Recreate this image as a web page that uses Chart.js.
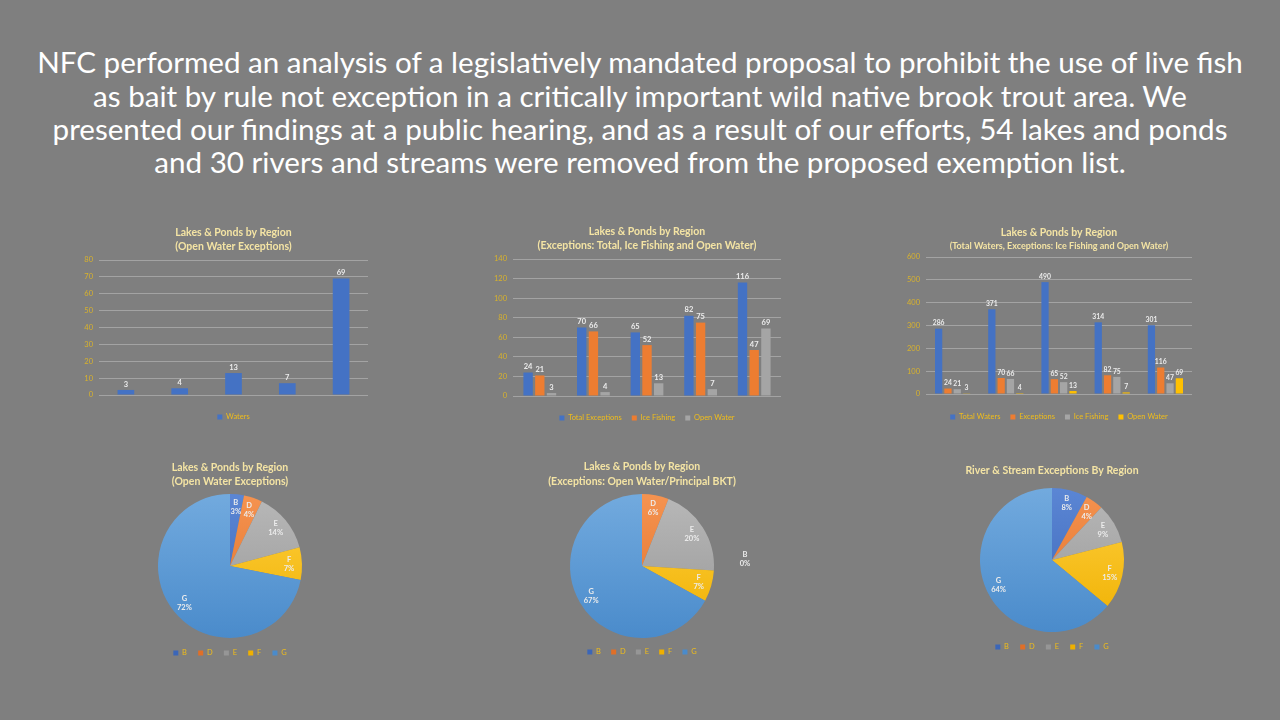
<!DOCTYPE html>
<html>
<head>
<meta charset="utf-8">
<script src="https://cdn.jsdelivr.net/npm/chart.js@4.4.1/dist/chart.umd.min.js"></script>
<style>
html,body{margin:0;padding:0;background:#7f7f7f;width:1280px;height:720px;overflow:hidden;}
.hl{position:absolute;left:0;width:1280px;text-align:center;color:#ffffff;font-family:Lato, sans-serif;font-weight:400;white-space:nowrap;}
canvas{position:absolute;}
</style>
</head>
<body>
<div id="heading"></div>
<canvas id="c1"></canvas>
<canvas id="c2"></canvas>
<canvas id="c3"></canvas>
<canvas id="c4"></canvas>
<canvas id="c5"></canvas>
<canvas id="c6"></canvas>
<script>
// ---------------- DATA ----------------
const regions = ['B', 'D', 'E', 'F', 'G'];
const openWaterExceptions = [3, 4, 13, 7, 69];
const totalExceptions = [24, 70, 65, 82, 116];
const iceFishingExceptions = [21, 66, 52, 75, 47];
const totalWaters = [286, 371, 490, 314, 301];
const openWaterPrincipalBktPct = [0, 6, 20, 7, 67];
const riverStreamPct = [8, 4, 9, 15, 64];
const yAxis1 = {max: 80, step: 10};
const yAxis2 = {max: 140, step: 20};
const yAxis3 = {max: 600, step: 100};
const headingLines = [
  'NFC performed an analysis of a legislatively mandated proposal to prohibit the use of live fish',
  'as bait by rule not exception in a critically important wild native brook trout area. We',
  'presented our findings at a public hearing, and as a result of our efforts, 54 lakes and ponds',
  'and 30 rivers and streams were removed from the proposed exemption list.'
];

// ---------------- STYLE ----------------
const FONT = 'Lato, sans-serif';
Chart.defaults.font.family = FONT;
const COL = {blue: '#4472c4', orange: '#ed7d31', gray: '#a5a5a5', yellow: '#ffc000', lblue: '#5b9bd5'};
const titleColor = '#f4e4a4';
const tickColor = '#d8b22c';
const legendColor = '#f0bd1a';
const catColor = '#dcdcdc';
const gridColor = '#a3a3a3';
const labelColor = '#ececec';

// ---------------- HEADING ----------------
(function () {
  const m = document.createElement('canvas').getContext('2d');
  m.font = '400 100px ' + FONT;
  const w = m.measureText(headingLines[0]).width;
  const size = 1208 / w * 100;
  const centers = [62, 95.5, 129, 162];
  const h = document.getElementById('heading');
  headingLines.forEach((t, i) => {
    const d = document.createElement('div');
    d.className = 'hl';
    d.style.fontSize = size + 'px';
    d.style.lineHeight = '34px';
    d.style.top = (centers[i] - 17) + 'px';
    d.textContent = t;
    h.appendChild(d);
  });
})();

// ---------------- VALUE LABELS PLUGIN ----------------
const valueLabels = {
  id: 'valueLabels',
  afterDatasetsDraw(chart, args, opts) {
    const ctx = chart.ctx;
    ctx.save();
    ctx.fillStyle = opts.color || labelColor;
    ctx.textAlign = 'center';
    if (chart.config.type === 'bar') {
      ctx.font = 'bold ' + (opts.size || 7.5) + 'px ' + FONT;
      ctx.textBaseline = 'bottom';
      chart.data.datasets.forEach((ds, i) => {
        chart.getDatasetMeta(i).data.forEach((el, j) => {
          ctx.fillText(String(ds.data[j]), el.x, el.y - 2);
        });
      });
    } else {
      ctx.font = 'bold ' + (opts.size || 7.5) + 'px ' + FONT;
      ctx.textBaseline = 'middle';
      const ds = chart.data.datasets[0];
      const sum = ds.data.reduce((s, v) => s + v, 0);
      chart.getDatasetMeta(0).data.forEach((el, j) => {
        const v = ds.data[j];
        const pct = Math.round(v / sum * 100) + '%';
        let lx, ly;
        if (v === 0) {
          lx = el.x + el.outerRadius * 1.43;
          ly = el.y - el.outerRadius * 0.1;
        } else {
          const mid = (el.startAngle + el.endAngle) / 2;
          const rr = el.outerRadius * 0.82;
          lx = el.x + Math.cos(mid) * rr;
          ly = el.y + Math.sin(mid) * rr;
        }
        ctx.fillText(chart.data.labels[j], lx, ly - 4.5);
        ctx.fillText(pct, lx, ly + 4.5);
      });
    }
    ctx.restore();
  }
};

// ---------------- BAR CHARTS ----------------
function barChart(id, g, datasets, yAx) {
  const tLH = g.ts * 1.2, sLH = g.ss * 1.2;
  const a = g.t1 - g.T - tLH / 2;
  const tB = g.T + a + tLH;
  const c = g.t2 - tB - sLH / 2;
  const sB = tB + c + sLH;
  const b = g.top - sB;
  const xFont = 7.5, xLH = xFont * 1.2;
  const xp = g.catY - g.bottom - xLH / 2;
  const lf = 7.5, lp = 10;
  const xH = g.legY - g.bottom - lp - lf / 2;
  const legTop = g.bottom + xH;
  const cb = legTop + lf + lp + 10;
  const H = Math.ceil(cb - g.T);
  const padB = H - (cb - g.T);
  const cv = document.getElementById(id);
  cv.style.left = g.L + 'px';
  cv.style.top = g.T + 'px';
  cv.width = g.R - g.L;
  cv.height = H;
  new Chart(cv, {
    type: 'bar',
    data: {labels: regions, datasets: datasets.map(d => ({
      label: d.label, data: d.data, backgroundColor: d.color, borderWidth: 0,
      categoryPercentage: g.catPct, barPercentage: g.barPct
    }))},
    options: {
      responsive: false, animation: false, devicePixelRatio: 1,
      layout: {padding: {left: 0, right: g.R - g.right, top: 0, bottom: padB}},
      plugins: {
        title: {display: true, text: g.title, fullSize: false, color: titleColor,
          font: {size: g.ts, weight: 'bold', lineHeight: 1.2}, padding: {top: a, bottom: 0}},
        subtitle: {display: true, text: g.sub, fullSize: false, color: titleColor,
          font: {size: g.ss, weight: 'bold', lineHeight: 1.2}, padding: {top: c, bottom: b}},
        legend: {position: 'bottom', fullSize: false,
          labels: {boxWidth: 5, boxHeight: 5, padding: lp, color: legendColor, font: {size: lf}}},
        tooltip: {enabled: false},
        valueLabels: {size: g.vs}
      },
      scales: {
        x: {grid: {display: false}, border: {display: false},
          ticks: {color: catColor, font: {size: xFont}, padding: xp},
          afterFit(s) { s.height = xH; }},
        y: {min: 0, max: yAx.max,
          ticks: {stepSize: yAx.step, color: tickColor, font: {size: 7.5}, padding: 6},
          grid: {color: gridColor, drawTicks: false, lineWidth: 1},
          border: {display: false},
          afterFit(s) { s.width = g.left - g.L; }}
      }
    },
    plugins: [valueLabels]
  });
}

barChart('c1', {
  L: 45, R: 395, T: 222, t1: 233, t2: 247, top: 260, bottom: 395, catY: 404, legY: 417,
  left: 99, right: 368, ts: 10.5, ss: 10.5, vs: 7.5, catPct: 1, barPct: 0.31,
  title: 'Lakes & Ponds by Region', sub: '(Open Water Exceptions)'
}, [
  {label: 'Waters', data: openWaterExceptions, color: COL.blue}
], yAxis1);

barChart('c2', {
  L: 465, R: 800, T: 220, t1: 232, t2: 246, top: 259, bottom: 396, catY: 405, legY: 418,
  left: 513, right: 781, ts: 10.5, ss: 10.5, vs: 7.5, catPct: 0.655, barPct: 0.8,
  title: 'Lakes & Ponds by Region', sub: '(Exceptions: Total, Ice Fishing and Open Water)'
}, [
  {label: 'Total Exceptions', data: totalExceptions, color: COL.blue},
  {label: 'Ice Fishing', data: iceFishingExceptions, color: COL.orange},
  {label: 'Open Water', data: openWaterExceptions, color: COL.gray}
], yAxis2);

barChart('c3', {
  L: 880, R: 1210, T: 222, t1: 233, t2: 246, top: 257, bottom: 394, catY: 404, legY: 417,
  left: 926, right: 1192, ts: 10.5, ss: 9, vs: 6.8, catPct: 0.7, barPct: 0.78,
  title: 'Lakes & Ponds by Region', sub: '(Total Waters, Exceptions: Ice Fishing and Open Water)'
}, [
  {label: 'Total Waters', data: totalWaters, color: COL.blue},
  {label: 'Exceptions', data: totalExceptions, color: COL.orange},
  {label: 'Ice Fishing', data: iceFishingExceptions, color: COL.gray},
  {label: 'Open Water', data: openWaterExceptions, color: COL.yellow}
], yAxis3);

// ---------------- PIE CHARTS ----------------
const pieShades = [
  ['#5b86d4', '#3b66b8'],
  ['#f59350', '#e06f28'],
  ['#b8b8b8', '#969696'],
  ['#ffd040', '#efb000'],
  ['#72aade', '#4a8bcb']
];
function pieFill(ctx) {
  const i = ctx.dataIndex;
  const shade = pieShades[i] || pieShades[0];
  const ch = ctx.chart, a = ch.chartArea;
  if (!a) return shade[0];
  const gr = ch.ctx.createLinearGradient(0, a.top, 0, a.bottom);
  gr.addColorStop(0, shade[0]);
  gr.addColorStop(1, shade[1]);
  return gr;
}

function pieChart(id, g, values) {
  const ts = 10.5, tLH = ts * 1.2;
  const a = g.t1 - g.T - tLH / 2;
  const tB = g.T + a + tLH;
  const areaTop = g.cy - g.r, areaBottom = g.cy + g.r;
  let titlePadBottom = 0, sub = {display: false};
  if (g.sub) {
    const c = g.t2 - tB - tLH / 2;
    const sB = tB + c + tLH;
    sub = {display: true, text: g.sub, color: titleColor,
      font: {size: ts, weight: 'bold', lineHeight: 1.2}, padding: {top: c, bottom: areaTop - sB}};
  } else {
    titlePadBottom = areaTop - tB;
  }
  const lf = 7.5;
  const lp = g.legY - areaBottom - lf / 2;
  const cb = areaBottom + lf + lp + 10;
  const H = Math.ceil(cb - g.T);
  const padB = H - (cb - g.T);
  const cv = document.getElementById(id);
  cv.style.left = (g.cx - g.W / 2) + 'px';
  cv.style.top = g.T + 'px';
  cv.width = g.W;
  cv.height = H;
  new Chart(cv, {
    type: 'pie',
    data: {labels: regions, datasets: [{data: values, borderWidth: 0, backgroundColor: pieFill}]},
    options: {
      responsive: false, animation: false, devicePixelRatio: 1,
      layout: {padding: {left: 0, right: 0, top: 0, bottom: padB}},
      plugins: {
        title: {display: true, text: g.title, color: titleColor,
          font: {size: ts, weight: 'bold', lineHeight: 1.2}, padding: {top: a, bottom: titlePadBottom}},
        subtitle: sub,
        legend: {position: 'bottom',
          labels: {boxWidth: 5, boxHeight: 5, padding: lp, color: legendColor, font: {size: lf}}},
        tooltip: {enabled: false},
        valueLabels: {}
      }
    },
    plugins: [valueLabels]
  });
}

pieChart('c4', {cx: 230, cy: 566, r: 72, T: 455, t1: 467.5, t2: 481.5, legY: 653, W: 200,
  title: 'Lakes & Ponds by Region', sub: '(Open Water Exceptions)'}, openWaterExceptions);
pieChart('c5', {cx: 642, cy: 566, r: 72, T: 455, t1: 467, t2: 481.5, legY: 652, W: 280,
  title: 'Lakes & Ponds by Region', sub: '(Exceptions: Open Water/Principal BKT)'}, openWaterPrincipalBktPct);
pieChart('c6', {cx: 1052, cy: 560, r: 72, T: 455, t1: 471, legY: 647, W: 200,
  title: 'River & Stream Exceptions By Region'}, riverStreamPct);
</script>
</body>
</html>
